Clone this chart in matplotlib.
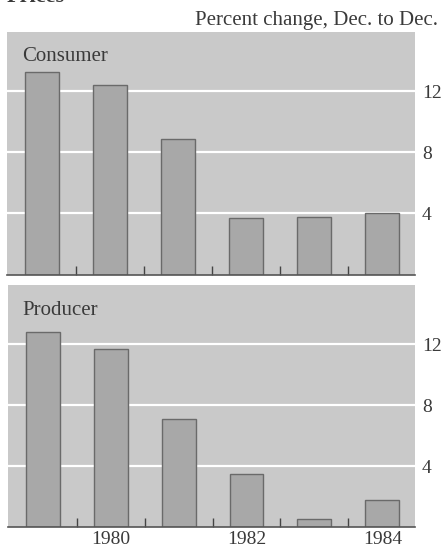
import matplotlib
matplotlib.use("Agg")
import matplotlib.pyplot as plt
from matplotlib.ticker import FixedLocator

years = [1979, 1980, 1981, 1982, 1983, 1984]
consumer = [13.3, 12.4, 8.9, 3.7, 3.8, 4.0]
producer = [12.8, 11.7, 7.1, 3.5, 0.5, 1.8]
panel_names = ["Consumer", "Producer"]
y_ticks = [4, 8, 12]
x_tick_years = [1980, 1982, 1984]
subtitle = "Percent change, Dec. to Dec."
title = "Prices"

plt.rcParams['font.family'] = ['Liberation Serif', 'DejaVu Serif']

W, H = 443, 548
fig = plt.figure(figsize=(W / 100, H / 100), dpi=100)
fig.patch.set_facecolor('white')

bg = '#c9c9c9'
barc = '#a8a8a8'
edgec = '#6a6a6a'
textc = '#3a3a3a'

def px_axes(left, top, right, bottom):
    return fig.add_axes([left / W, 1 - bottom / H, (right - left) / W, (bottom - top) / H])

ax1 = px_axes(7, 32, 415, 274.5)
ax2 = px_axes(8, 285, 415, 527)

for ax, vals in [(ax1, consumer), (ax2, producer)]:
    ax.set_facecolor(bg)
    ax.set_xlim(1978.49, 1984.48)
    ax.set_ylim(0, 15.9)
    for yt in y_ticks:
        ax.axhline(yt, color='white', lw=1.6, zorder=1)
    ax.bar(years, vals, width=0.5, color=barc, edgecolor=edgec, linewidth=1.0, zorder=2)
    for s in ['top', 'left', 'right']:
        ax.spines[s].set_visible(False)
    ax.spines['bottom'].set_color('#555555')
    ax.spines['bottom'].set_linewidth(1.2)
    ax.yaxis.tick_right()
    ax.set_yticks(y_ticks)
    ax.set_yticklabels([str(v) for v in y_ticks])
    ax.tick_params(axis='y', length=0, pad=5, labelsize=14, labelcolor=textc)
    ax.xaxis.set_minor_locator(FixedLocator([y + 0.5 for y in years[:-1]]))
    ax.tick_params(axis='x', which='minor', direction='in', length=6.5, width=1.0, color='#444444')
    ax.set_xticks(x_tick_years)
    ax.tick_params(axis='x', which='major', length=0, pad=3, labelsize=14, labelcolor=textc)

ax1.set_xticklabels([])
ax2.set_xticklabels([str(v) for v in x_tick_years])

fig.text(22 / W, 1 - 61 / H, panel_names[0], fontsize=15, color=textc, va='baseline', ha='left')
fig.text(22 / W, 1 - 315 / H, panel_names[1], fontsize=15, color=textc, va='baseline', ha='left')
fig.text(438 / W, 1 - 25.5 / H, subtitle, fontsize=15, color=textc, va='baseline', ha='right')
fig.text(7 / W, 1 - 1.5 / H, title, fontsize=16, fontweight='bold', color=textc, va='baseline', ha='left')

fig.savefig('out.png', dpi=100, facecolor='white')
